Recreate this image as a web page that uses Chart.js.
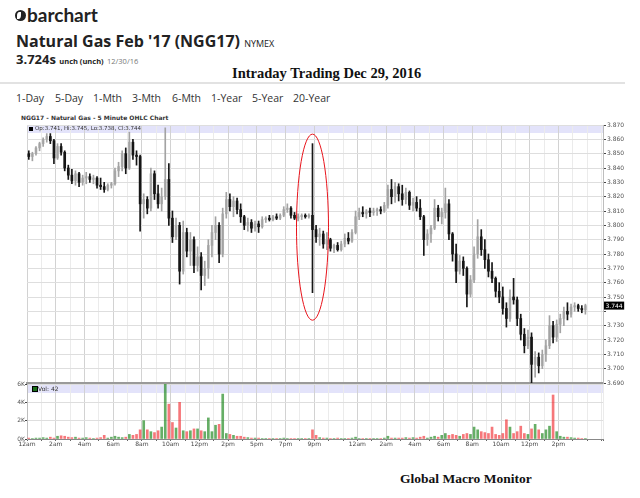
<!DOCTYPE html>
<html><head><meta charset="utf-8">
<script src="https://cdn.jsdelivr.net/npm/chart.js@4/dist/chart.umd.min.js"></script>
<style>
body{margin:0;width:640px;height:498px;background:#fff;position:relative;overflow:hidden;font-family:"Open Sans",sans-serif;color:#222;}
.t{position:absolute;white-space:nowrap;line-height:1;}
canvas{position:absolute;left:0;}
#price{top:115px;}
#vol{top:375px;}
.btn{position:absolute;top:92px;font-size:10.5px;color:#333;white-space:nowrap;line-height:12px;}
</style></head><body>
<div class="t" style="left:15px;top:10px;width:11px;height:11px;border-radius:50%;background:#222;overflow:hidden;">
  <div style="position:absolute;left:2px;top:2px;width:4px;height:7px;border-radius:60% 0 60% 0;background:#fff;"></div>
</div>
<div class="t" style="left:27px;top:5px;font-family:Lato;font-weight:700;font-size:19px;color:#222;">barchart</div>
<div class="t" style="left:16px;top:33px;font-weight:700;font-size:16px;color:#222;">Natural Gas Feb '17 (NGG17) <span style="font-weight:400;font-size:9px;">NYMEX</span></div>
<div class="t" style="left:16px;top:53px;font-weight:700;font-size:13px;color:#222;">3.724s <span style="font-size:7.5px;">unch (unch)</span> <span style="font-size:7.5px;font-weight:400;color:#777;">12/30/16</span></div>
<div class="t" style="left:232px;top:66px;font-family:'Liberation Serif';font-weight:700;font-size:14.5px;color:#111;">Intraday Trading Dec 29, 2016</div>
<div class="t" style="left:0;top:82px;width:625px;height:2px;background:#e2e2e2;"></div>
<div class="btn" style="left:16px;">1-Day</div>
<div class="btn" style="left:55px;">5-Day</div>
<div class="btn" style="left:93px;">1-Mth</div>
<div class="btn" style="left:132px;">3-Mth</div>
<div class="btn" style="left:172px;">6-Mth</div>
<div class="btn" style="left:211px;">1-Year</div>
<div class="btn" style="left:252px;">5-Year</div>
<div class="btn" style="left:293px;">20-Year</div>
<div class="t" style="left:21px;top:115px;font-family:'DejaVu Sans';font-weight:700;font-size:6px;color:#333;">NGG17 - Natural Gas - 5 Minute OHLC Chart</div>
<canvas id="price" width="640" height="275"></canvas>
<canvas id="vol" width="640" height="80"></canvas>
<div class="t" style="left:29px;top:127px;width:4px;height:4px;background:#000;z-index:2;"></div>
<div class="t" style="left:35px;top:126px;font-family:'DejaVu Sans';font-size:5.5px;color:#333;z-index:2;" id="ohlcLegend"></div>
<div class="t" style="left:32px;top:386px;width:4px;height:4px;background:#1a6e1a;border:0.5px solid #000;z-index:2;"></div>
<div class="t" style="left:38px;top:385.5px;font-family:'DejaVu Sans';font-size:6px;color:#333;z-index:2;" id="volLegend"></div>
<div class="t" style="left:400px;top:472px;font-family:'Liberation Serif';font-weight:700;font-size:13.5px;color:#111;">Global Macro Monitor</div>
<script>
// ---- data (15-minute OHLC bars) ----
const barHours = 0.25;
const opens = [
3.850,3.848,3.850,3.854, 3.857,3.860,3.862,3.859, 3.847,3.855,3.851,3.840, 3.835,3.831,3.836,3.830,
3.833,3.834,3.832,3.833, 3.828,3.827,3.825,3.828, 3.829,3.838,3.841,3.850, 3.840,3.858,3.849,3.848,
3.815,3.818,3.812,3.836, 3.822,3.815,3.820,3.832, 3.805,3.792,3.800,3.768, 3.795,3.782,3.790,3.772,
3.778,3.765,3.770,3.786, 3.795,3.800,3.780,3.808, 3.818,3.813,3.817,3.811, 3.806,3.800,3.802,3.798,
3.801,3.799,3.804,3.805, 3.804,3.806,3.805,3.807, 3.811,3.812,3.807,3.805, 3.806,3.807,3.806,3.807,
3.797,3.792,3.794,3.787, 3.790,3.784,3.786,3.783, 3.787,3.791,3.789,3.795, 3.806,3.809,3.808,3.810,
3.809,3.810,3.811,3.810, 3.814,3.825,3.820,3.827, 3.822,3.818,3.823,3.814, 3.816,3.812,3.806,3.790,
3.794,3.798,3.812,3.806, 3.809,3.815,3.794,3.780, 3.768,3.775,3.770,3.752, 3.762,3.780,3.792,3.783,
3.776,3.768,3.763,3.754, 3.750,3.742,3.735,3.750, 3.748,3.735,3.724,3.716, 3.722,3.703,3.708,3.702,
3.710,3.716,3.730,3.722, 3.731,3.735,3.740,3.738, 3.743,3.744,3.742,3.741];
const highs = [
3.852,3.851,3.855,3.858, 3.861,3.864,3.864,3.860, 3.857,3.857,3.852,3.842, 3.839,3.838,3.837,3.835,
3.837,3.836,3.835,3.834, 3.833,3.830,3.829,3.830, 3.840,3.844,3.852,3.854, 3.865,3.860,3.852,3.849,
3.822,3.820,3.840,3.838, 3.828,3.826,3.868,3.843, 3.810,3.805,3.802,3.803, 3.798,3.795,3.792,3.785,
3.781,3.775,3.790,3.800, 3.806,3.802,3.812,3.823, 3.822,3.820,3.819,3.815, 3.807,3.805,3.804,3.803,
3.803,3.806,3.806,3.807, 3.807,3.808,3.808,3.813, 3.815,3.813,3.809,3.808, 3.808,3.808,3.808,3.857,
3.800,3.798,3.796,3.795, 3.791,3.787,3.788,3.789, 3.794,3.795,3.797,3.810, 3.812,3.813,3.811,3.812,
3.812,3.812,3.813,3.816, 3.828,3.832,3.830,3.829, 3.828,3.826,3.824,3.819, 3.820,3.818,3.807,3.797,
3.800,3.818,3.814,3.812, 3.826,3.818,3.795,3.787, 3.779,3.778,3.771,3.765, 3.785,3.804,3.797,3.790,
3.780,3.774,3.764,3.760, 3.757,3.746,3.755,3.763, 3.750,3.738,3.728,3.727, 3.725,3.712,3.711,3.713,
3.720,3.737,3.733,3.734, 3.738,3.743,3.746,3.745, 3.746,3.745,3.744,3.745];
const lows = [
3.846,3.845,3.849,3.852, 3.855,3.858,3.857,3.843, 3.846,3.849,3.838,3.832, 3.829,3.828,3.827,3.828,
3.829,3.830,3.829,3.826, 3.825,3.823,3.824,3.826, 3.828,3.834,3.838,3.836, 3.839,3.846,3.842,3.796,
3.805,3.808,3.810,3.818, 3.812,3.810,3.818,3.800, 3.788,3.790,3.759,3.766, 3.778,3.772,3.767,3.768,
3.755,3.758,3.763,3.778, 3.790,3.774,3.778,3.805, 3.810,3.806,3.808,3.802, 3.797,3.796,3.795,3.796,
3.795,3.798,3.802,3.803, 3.803,3.804,3.804,3.806, 3.809,3.805,3.804,3.803, 3.804,3.805,3.805,3.753,
3.788,3.786,3.784,3.783, 3.782,3.781,3.782,3.782, 3.785,3.787,3.788,3.794, 3.804,3.806,3.805,3.806,
3.807,3.807,3.808,3.809, 3.812,3.815,3.816,3.817, 3.814,3.815,3.811,3.810, 3.810,3.804,3.779,3.786,
3.788,3.797,3.803,3.801, 3.805,3.790,3.775,3.760, 3.766,3.765,3.743,3.750, 3.760,3.777,3.779,3.770,
3.764,3.760,3.750,3.746, 3.738,3.729,3.733,3.745, 3.730,3.720,3.711,3.714, 3.690,3.694,3.697,3.700,
3.705,3.714,3.718,3.719, 3.725,3.730,3.734,3.736, 3.740,3.740,3.739,3.738];
const closes = [
3.848,3.850,3.854,3.857, 3.860,3.862,3.859,3.847, 3.855,3.851,3.840,3.835, 3.831,3.836,3.830,3.833,
3.834,3.832,3.833,3.828, 3.827,3.825,3.828,3.829, 3.838,3.841,3.850,3.840, 3.858,3.849,3.848,3.815,
3.818,3.812,3.836,3.822, 3.815,3.820,3.832,3.805, 3.792,3.800,3.768,3.795, 3.782,3.790,3.772,3.778,
3.765,3.770,3.786,3.795, 3.800,3.780,3.808,3.818, 3.813,3.817,3.811,3.806, 3.800,3.802,3.798,3.801,
3.799,3.804,3.805,3.804, 3.806,3.805,3.807,3.811, 3.812,3.807,3.805,3.806, 3.807,3.806,3.807,3.797,
3.792,3.794,3.787,3.790, 3.784,3.786,3.783,3.787, 3.791,3.789,3.795,3.806, 3.809,3.808,3.810,3.809,
3.810,3.811,3.810,3.814, 3.825,3.820,3.827,3.822, 3.818,3.823,3.814,3.816, 3.812,3.806,3.790,3.794,
3.798,3.812,3.806,3.809, 3.815,3.794,3.780,3.768, 3.775,3.770,3.752,3.762, 3.780,3.792,3.783,3.776,
3.768,3.763,3.754,3.750, 3.742,3.735,3.750,3.748, 3.735,3.724,3.716,3.722, 3.703,3.708,3.702,3.710,
3.716,3.730,3.722,3.731, 3.735,3.740,3.738,3.743, 3.744,3.742,3.741,3.744];
// volume in thousands of contracts
const volumesK = [
0.1,0.05,0.1,0.1, 0.15,0.1,0.2,0.1, 0.3,0.35,0.3,0.2, 0.15,0.2,0.1,0.1,
0.15,0.1,0.05,0.1, 0.15,0.4,0.1,0.2, 0.3,0.2,0.15,0.2, 0.5,0.4,0.5,1.0,
2.0,1.0,0.8,0.7, 0.9,1.3,6.0,3.8, 1.8,1.2,4.0,0.9, 0.8,0.9,1.1,1.1,
0.9,0.8,2.3,0.8, 1.5,1.6,4.9,0.6, 0.5,0.4,0.3,0.3, 0.2,0.15,0.1,0.1,
0.1,0.05,0.05,0.05, 0.05,0.05,0.05,0.1, 0.05,0.05,0.05,0.05, 0.05,0.05,0.05,1.0,
0.4,0.15,0.1,0.1, 0.05,0.05,0.1,0.05, 0.05,0.05,0.1,0.2, 0.05,0.05,0.05,0.05,
0.05,0.05,0.05,0.1, 0.3,0.1,0.1,0.1, 0.1,0.15,0.1,0.15, 0.1,0.2,0.3,0.1,
0.2,0.3,0.2,0.4, 0.6,0.4,0.5,0.4, 0.3,0.5,0.6,0.5, 1.3,1.0,0.8,0.7,
0.6,1.3,0.5,0.4, 0.6,2.1,1.3,0.6, 0.8,1.4,0.6,0.5, 1.1,1.6,1.0,0.6,
1.0,1.4,4.8,0.8, 0.3,0.2,0.2,0.15, 0.1,0.1,0.05,0.05];
const lastVolume = 42;
const tickHours = [0,2,4,6,8,10,12,14,16,18,20,23,25,27,29,31,33,35,37];
const tickLabels = ['12am','2am','4am','6am','8am','10am','12pm','2pm','5pm','7pm','9pm','12am','2am','4am','6am','8am','10am','12pm','2pm'];
const priceTicks = ['3.690','3.700','3.710','3.720','3.730','3.740','3.750','3.760','3.770','3.780','3.790','3.800','3.810','3.820','3.830','3.840','3.850','3.860','3.870'];
const volTicksK = [0,2,4,6];
const xMaxHours = 40.1;

// ---- derived ----
const n = opens.length;
const times = opens.map((_, i) => (i + 0.5) * barHours);
const up = i => closes[i] >= opens[i];
const last = n - 1;
const fmt = v => v.toFixed(3);
document.getElementById('ohlcLegend').textContent =
  'Op:' + fmt(opens[last]) + ', Hi:' + fmt(highs[last]) + ', Lo:' + fmt(lows[last]) + ', Cl:' + fmt(closes[last]);
document.getElementById('volLegend').textContent = 'Vol: ' + lastVolume;

Chart.defaults.font.family = 'DejaVu Sans';
Chart.defaults.font.size = 6;
Chart.defaults.color = '#444';
Chart.defaults.animation = false;

const gridHours = [];
for (let h = 0; h <= Math.floor(xMaxHours); h++) gridHours.push(h);
gridHours.push(xMaxHours);
const xGridColor = ctx => (ctx.tick && tickHours.includes(ctx.tick.value)) ? '#d2d2d2' : '#ebebeb';

const bandPlugin = {
  id: 'band',
  beforeDraw(chart, args, opts) {
    const a = chart.chartArea, c = chart.ctx;
    c.save(); c.fillStyle = opts.color; c.fillRect(a.left, a.top, a.right - a.left, opts.h); c.restore();
  }
};

const annotatePlugin = {
  id: 'annot',
  afterDraw(chart) {
    const c = chart.ctx, xs = chart.scales.x, ys = chart.scales.y;
    const yy = ys.getPixelForValue(closes[last]);
    c.save();
    c.font = '6px "DejaVu Sans"';
    const w = c.measureText(fmt(closes[last])).width;
    c.fillStyle = '#000';
    c.fillRect(ys.left + 1, yy - 4, w + 3, 8);
    c.fillStyle = '#fff'; c.textBaseline = 'middle';
    c.fillText(fmt(closes[last]), ys.left + 2.5, yy + 0.5);
    let k = 0;
    for (let i = 0; i < n; i++) if (highs[i] - lows[i] > highs[k] - lows[k]) k = i;
    const cx = xs.getPixelForValue(times[k]);
    const yh = ys.getPixelForValue(highs[k]), yl = ys.getPixelForValue(lows[k]);
    c.strokeStyle = '#e8131b'; c.lineWidth = 1;
    c.beginPath();
    c.ellipse(cx, (yh + yl) / 2 + 9, 16, (yl - yh) / 2 + 18.5, 0, 0, Math.PI * 2);
    c.stroke();
    c.restore();
  }
};

const upCol = '#a3a3a3', dnCol = '#161616';
new Chart(document.getElementById('price'), {
  type: 'bar',
  data: {
    datasets: [
      { data: times.map((x, i) => ({ x, y: [lows[i], highs[i]] })), barThickness: 1, grouped: false,
        backgroundColor: ctx => up(ctx.dataIndex) ? upCol : dnCol },
      { data: times.map((x, i) => ({ x, y: [Math.min(opens[i], closes[i]), Math.max(opens[i], closes[i])] })), barThickness: 2, grouped: false,
        backgroundColor: ctx => up(ctx.dataIndex) ? '#b8b8b8' : dnCol }
    ]
  },
  options: {
    responsive: false,
    layout: { padding: { top: 10, left: 27, right: 0, bottom: 7 } },
    plugins: { legend: { display: false }, tooltip: { enabled: false }, band: { color: '#e3e3fa', h: 8 } },
    scales: {
      x: {
        type: 'linear', min: 0, max: xMaxHours, offset: false,
        afterBuildTicks: s => { s.ticks = gridHours.map(v => ({ value: v })); },
        afterFit: s => { s.height = 0; },
        ticks: { display: false },
        grid: { offset: false, color: xGridColor, drawTicks: false },
        border: { display: true, color: '#9a9a9a', width: 2 }
      },
      y: {
        position: 'right', min: 3.69, max: 3.87,
        afterBuildTicks: s => { s.ticks = priceTicks.map(v => ({ value: parseFloat(v) })); },
        afterFit: s => { s.width = 37; },
        ticks: { padding: 1, color: '#555',
          callback: (v) => Math.abs(v - closes[last]) < 0.005 ? '' : priceTicks.find(p => Math.abs(parseFloat(p) - v) < 1e-6) },
        grid: { color: '#dedede', tickLength: 3, tickColor: '#444' },
        border: { display: true, color: '#bdbdbd' }
      }
    }
  },
  plugins: [bandPlugin, annotatePlugin]
});

new Chart(document.getElementById('vol'), {
  type: 'bar',
  data: {
    datasets: [
      { data: times.map((x, i) => ({ x, y: volumesK[i] })), barThickness: 2, grouped: false,
        backgroundColor: ctx => up(ctx.dataIndex) ? 'rgba(30,135,30,0.68)' : 'rgba(240,35,40,0.62)' }
    ]
  },
  options: {
    responsive: false,
    layout: { padding: { top: 9, left: 0, right: 37, bottom: 0 } },
    plugins: { legend: { display: false }, tooltip: { enabled: false }, band: { color: '#e3e3fa', h: 9 } },
    scales: {
      x: {
        type: 'linear', min: 0, max: xMaxHours, offset: false,
        afterBuildTicks: s => { s.ticks = gridHours.map(v => ({ value: v })); },
        afterFit: s => { s.height = 16; },
        ticks: { autoSkip: false, maxRotation: 0, padding: 0, color: '#444',
          callback: v => { const j = tickHours.indexOf(v); return j >= 0 ? tickLabels[j] : ''; } },
        grid: { offset: false, color: xGridColor, tickLength: 2, tickColor: '#666' },
        border: { display: true, color: '#888', width: 1 }
      },
      y: {
        position: 'left', min: 0, max: 6,
        afterBuildTicks: s => { s.ticks = volTicksK.map(v => ({ value: v })); },
        afterFit: s => { s.width = 27; },
        ticks: { padding: 0, color: '#555', callback: v => v + 'K' },
        grid: { color: '#dedede', tickLength: 2, tickColor: '#444' },
        border: { display: true, color: '#bdbdbd' }
      }
    }
  },
  plugins: [bandPlugin]
});
</script>
</body></html>
